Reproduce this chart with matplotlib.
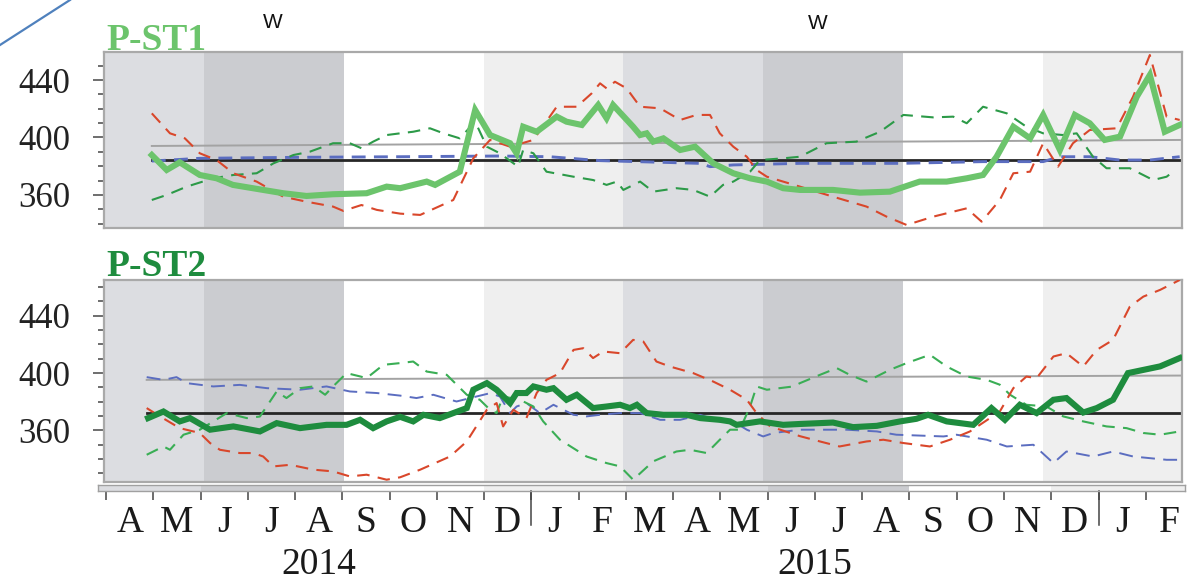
import matplotlib
matplotlib.use("Agg")
import matplotlib.pyplot as plt
from matplotlib.lines import Line2D
from matplotlib.transforms import blended_transform_factory
import numpy as np

plt.rcParams['lines.scale_dashes'] = False
plt.rcParams['font.family'] = ["Liberation Serif", "DejaVu Serif"]

# ---------------- data (x in months since 1 Apr 2014) ----------------
month_labels = ["A", "M", "J", "J", "A", "S", "O", "N", "D", "J", "F",
                "M", "A", "M", "J", "J", "A", "S", "O", "N", "D", "J", "F"]
year_labels = ["2014", "2015"]
year_centers = [4.5, 15.0]
year_breaks = [9, 21]
ytick_vals = [360, 400, 440]
ytick_labels = ["360", "400", "440"]
season_starts = [-1, 2, 5, 8, 11, 14, 17, 20]
season_kinds = ["spring", "summer", "fall", "winter", "spring", "summer", "fall", "winter"]

# ---- P-ST1 ----
st1_main_t = [0.88, 1.20, 1.48, 1.91, 2.27, 2.62, 3.27, 3.70, 4.20, 4.77, 5.49, 5.92, 6.21, 6.78,
              6.96, 7.49, 7.82, 8.14, 8.57, 8.71, 8.85, 9.14, 9.57, 9.78, 10.11, 10.46, 10.64, 10.78,
              11.21, 11.36, 11.50, 11.64, 11.86, 12.22, 12.54, 12.93, 13.36, 13.72, 14.08, 14.43,
              14.79, 15.50, 16.08, 16.72, 17.36, 17.94, 18.37, 18.72, 19.01, 19.37, 19.73, 20.01,
              20.37, 20.69, 21.01, 21.33, 21.66, 22.02, 22.30, 22.62, 22.94]
st1_main_v = [387.8, 377.4, 382.7, 373.9, 371.6, 367.0, 363.5, 361.2, 359.3, 360.5, 361.2, 365.8,
              364.7, 369.3, 367.0, 376.2, 419.1, 401.7, 396.0, 389.0, 407.5, 404.0, 414.5, 411.0,
              408.7, 422.6, 413.4, 422.6, 407.5, 401.7, 402.9, 397.1, 399.4, 391.3, 393.6, 382.0,
              375.1, 371.6, 369.3, 364.7, 363.5, 363.5, 361.6, 362.3, 369.3, 369.3, 371.6, 373.9,
              386.6, 407.5, 399.4, 415.7, 391.3, 415.7, 409.9, 398.3, 400.6, 428.4, 443.5, 404.0, 408.7]

st1_red_t = [0.88, 1.27, 1.59, 1.91, 2.27, 2.63, 3.13, 3.70, 4.20, 4.77, 4.99, 5.38, 5.71, 6.21,
             6.64, 7.35, 7.78, 8.14, 8.57, 9.07, 9.57, 10.00, 10.32, 10.50, 10.64, 10.82, 11.07,
             11.36, 11.79, 12.22, 12.57, 12.86, 13.07, 13.36, 13.65, 13.86, 14.08, 14.79, 15.50,
             16.22, 16.65, 17.08, 17.65, 18.37, 18.69, 19.08, 19.37, 19.73, 20.01, 20.33, 20.65,
             21.01, 21.59, 21.94, 22.30, 22.66, 22.94]
st1_red_v = [416.8, 402.9, 399.4, 389.0, 384.3, 375.1, 369.3, 358.8, 355.3, 351.9, 348.9, 353.0,
             349.6, 347.0, 346.1, 356.5, 385.5, 398.3, 393.6, 398.3, 421.4, 421.4, 430.7, 437.7,
             434.2, 438.8, 434.2, 421.4, 420.3, 412.2, 415.7, 415.7, 402.9, 393.6, 386.6, 377.4,
             372.7, 365.8, 358.8, 351.9, 344.9, 339.1, 344.9, 350.7, 341.4, 356.5, 375.1, 376.2,
             396.0, 379.7, 396.0, 405.2, 406.4, 428.4, 457.4, 414.5, 412.2]

st1_green_t = [0.88, 1.20, 1.63, 2.20, 2.63, 3.13, 3.49, 3.92, 4.27, 4.77, 5.13, 5.38, 5.63, 5.92,
               6.21, 6.49, 6.85, 7.14, 7.49, 7.82, 8.07, 8.35, 8.74, 8.85, 9.07, 9.35, 9.93, 10.35,
               10.64, 10.86, 11.00, 11.36, 11.64, 12.14, 12.50, 12.86, 13.14, 13.36, 13.72, 13.93,
               14.43, 14.79, 15.36, 16.00, 16.51, 17.01, 17.65, 18.08, 18.37, 18.72, 19.23, 19.65,
               20.01, 20.44, 20.73, 21.08, 21.37, 21.87, 22.37, 22.66, 22.80]
st1_green_v = [356.5, 360.0, 365.8, 371.6, 373.9, 375.1, 382.0, 387.8, 390.1, 396.0, 396.0, 392.5,
               397.1, 401.7, 402.9, 404.0, 406.4, 402.9, 399.4, 411.0, 393.6, 389.0, 379.7, 391.3,
               389.0, 376.2, 372.7, 370.4, 367.0, 369.3, 363.5, 369.3, 362.3, 364.7, 363.5, 358.8,
               367.0, 369.3, 376.2, 384.3, 385.5, 386.6, 396.0, 397.1, 404.0, 415.7, 414.0, 414.5,
               409.9, 421.4, 416.8, 407.5, 402.9, 401.7, 402.9, 386.6, 378.6, 378.6, 370.4, 372.7, 376.2]

st1_blue_t = [0.88, 1.91, 4.06, 6.21, 8.35, 9.42, 10.50, 12.65, 12.86, 13.36, 14.79, 16.94, 18.72,
              20.01, 20.37, 21.01, 21.66, 22.30, 22.94]
st1_blue_v = [383.6, 385.5, 386.2, 386.6, 387.1, 386.6, 383.9, 382.0, 379.7, 380.9, 382.0, 382.0,
              383.2, 383.2, 386.6, 386.6, 384.3, 384.3, 386.6]

st1_gray_t = [0.88, 22.99]
st1_gray_v = [394.1, 398.3]
st1_black_t = [0.88, 22.99]
st1_black_v = [384.0, 384.0]

# ---- P-ST2 ----
st2_main_t = [0.80, 1.13, 1.48, 1.70, 2.13, 2.63, 3.20, 3.56, 4.06, 4.63, 5.06, 5.35, 5.63, 5.92,
              6.21, 6.49, 6.71, 7.06, 7.35, 7.64, 7.78, 8.07, 8.28, 8.57, 8.71, 8.92, 9.07, 9.35,
              9.50, 9.78, 10.00, 10.35, 10.64, 10.93, 11.14, 11.29, 11.50, 11.86, 12.36, 12.65,
              13.07, 13.29, 13.43, 13.93, 14.43, 14.79, 15.22, 15.50, 15.93, 16.44, 16.94, 17.29,
              17.54, 17.94, 18.51, 18.90, 19.19, 19.51, 19.87, 20.23, 20.51, 20.87, 21.16, 21.51,
              21.83, 22.52, 22.94]
st2_main_v = [368.6, 373.2, 366.3, 368.6, 360.5, 362.8, 359.3, 365.1, 361.6, 363.9, 363.9, 367.4,
              361.6, 366.3, 369.5, 366.3, 370.9, 368.6, 372.1, 375.6, 388.4, 393.0, 388.4, 379.1,
              386.1, 386.1, 390.7, 388.4, 389.5, 381.4, 384.9, 375.6, 376.7, 377.9, 375.6, 377.9,
              372.1, 370.9, 370.9, 368.6, 367.4, 366.3, 363.9, 366.3, 363.9, 364.5, 365.1, 365.5,
              362.3, 363.2, 366.3, 368.1, 370.9, 366.3, 363.9, 375.6, 367.4, 377.9, 372.1, 381.4,
              382.6, 372.5, 375.6, 381.4, 400.0, 404.7, 410.5]

st2_red_t = [0.77, 1.06, 1.48, 1.91, 2.13, 2.34, 2.77, 3.06, 3.27, 3.49, 3.85, 4.35, 4.77, 5.13,
             5.49, 5.92, 6.21, 6.64, 7.28, 7.64, 8.07, 8.28, 8.42, 8.64, 8.92, 9.14, 9.35, 9.64,
             9.93, 10.14, 10.35, 10.57, 10.93, 11.21, 11.43, 11.71, 12.00, 12.50, 12.93, 13.29,
             13.65, 13.86, 14.15, 14.79, 15.22, 15.64, 16.22, 16.58, 17.01, 17.58, 18.01, 18.44,
             19.08, 19.37, 19.65, 19.87, 20.23, 20.51, 20.87, 21.16, 21.51, 21.87, 22.16, 22.52, 22.94]
st2_red_v = [375.6, 369.7, 361.6, 358.2, 351.2, 346.5, 344.2, 344.2, 341.8, 334.9, 336.0, 332.6,
             331.4, 327.9, 329.1, 325.6, 327.3, 332.6, 341.8, 352.3, 374.4, 379.1, 362.8, 374.4,
             368.6, 386.1, 395.3, 400.0, 416.2, 417.4, 410.5, 415.1, 413.9, 423.2, 422.0, 408.1,
             404.6, 400.0, 394.1, 388.4, 381.4, 372.1, 362.8, 356.0, 352.3, 348.8, 352.3, 353.5,
             351.2, 348.8, 353.5, 359.3, 373.2, 389.5, 397.6, 396.5, 411.6, 413.9, 404.6, 416.2,
             423.2, 446.4, 453.4, 458.1, 465.0]

st2_green_t = [0.77, 1.13, 1.27, 1.56, 1.91, 2.20, 2.49, 2.92, 3.20, 3.56, 3.77, 4.06, 4.35, 4.60,
               4.77, 5.06, 5.35, 5.49, 5.85, 6.21, 6.49, 6.78, 7.21, 7.64, 7.92, 8.14, 8.28, 8.42,
               8.78, 9.07, 9.28, 9.64, 10.21, 10.64, 10.93, 11.21, 11.64, 12.14, 12.43, 12.79,
               13.07, 13.29, 13.50, 13.72, 13.86, 14.08, 14.65, 14.79, 15.22, 15.58, 15.86, 16.22,
               16.72, 17.08, 17.58, 17.94, 18.37, 18.80, 19.08, 19.30, 19.65, 20.08, 20.44, 20.87,
               21.37, 21.80, 22.16, 22.52, 22.94]
st2_green_v = [343.0, 348.8, 346.5, 357.0, 360.5, 366.3, 372.1, 368.6, 369.7, 387.2, 382.6, 389.5,
               390.7, 384.9, 390.7, 400.0, 397.7, 396.5, 405.8, 407.0, 408.1, 401.1, 398.8, 384.9,
               381.4, 374.4, 372.1, 383.7, 381.4, 376.7, 366.3, 353.5, 341.8, 337.2, 334.9, 325.6,
               338.4, 345.3, 346.5, 344.2, 353.5, 360.5, 360.5, 376.7, 390.7, 388.4, 390.7, 393.0,
               398.8, 403.5, 398.8, 394.1, 402.3, 407.0, 412.8, 404.6, 397.6, 395.3, 391.9, 384.9,
               377.9, 376.7, 369.8, 366.3, 362.8, 361.6, 358.2, 357.0, 359.3]

st2_blue_t = [0.77, 1.13, 1.41, 1.63, 2.20, 2.77, 3.35, 4.06, 4.63, 5.13, 5.71, 6.21, 6.56, 6.92,
              7.42, 7.85, 8.14, 8.35, 8.57, 8.71, 8.92, 9.21, 9.50, 9.93, 10.21, 10.50, 10.93,
              11.36, 11.79, 12.22, 12.65, 13.07, 13.36, 13.65, 14.00, 14.22, 14.79, 15.22, 15.79,
              16.44, 16.86, 17.87, 18.15, 18.80, 19.23, 19.80, 20.23, 20.51, 21.08, 21.51, 21.94,
              22.66, 22.94]
st2_blue_v = [397.2, 395.3, 397.2, 393.0, 390.7, 391.8, 389.5, 388.4, 390.7, 387.2, 386.1, 384.3,
              382.6, 384.9, 380.2, 383.7, 386.0, 383.7, 372.1, 376.7, 379.1, 372.1, 377.9, 370.9,
              369.8, 370.9, 372.1, 372.1, 367.4, 367.4, 370.9, 366.3, 366.3, 360.5, 355.8, 358.2,
              360.5, 360.5, 360.5, 359.3, 357.0, 355.8, 357.0, 353.5, 348.8, 350.0, 337.2, 345.3,
              341.8, 345.3, 341.8, 339.5, 339.5]

st2_gray_t = [0.77, 22.99]
st2_gray_v = [395.3, 398.3]
st2_black_t = [0.77, 22.99]
st2_black_v = [372.1, 372.1]

# ---------------- styling ----------------
season_colors = {"spring": "#dcdde1", "summer": "#cbccd0", "fall": "#ffffff", "winter": "#efefef"}
SERIF = ["Liberation Serif", "DejaVu Serif"]
SANS = ["Liberation Sans", "DejaVu Sans"]
light_green = "#6cc46c"
dark_green = "#1e8c3e"
red = "#d9472b"
blue = "#5b6dc0"
frame_col = "#a9a9a9"

W, H = 1195, 581
fig = plt.figure(figsize=(W / 100, H / 100), dpi=100)


def px_rect(left, top, right, bottom):
    return [left / W, (H - bottom) / H, (right - left) / W, (bottom - top) / H]


XLIM = (-0.146, 22.99)


def shade(ax, xlim):
    for s, k in zip(season_starts, season_kinds):
        ax.axvspan(s, s + 3, color=season_colors[k], lw=0, zorder=0)
    ax.set_xlim(*xlim)


def style_panel(ax, ylim, ymin_tick, ymax_tick):
    ax.set_ylim(*ylim)
    ax.set_xticks([])
    ax.yaxis.set_major_locator(matplotlib.ticker.FixedLocator(ytick_vals))
    ax.yaxis.set_major_formatter(matplotlib.ticker.FixedFormatter(ytick_labels))
    ax.yaxis.set_minor_locator(matplotlib.ticker.FixedLocator(
        list(np.arange(ymin_tick, ymax_tick + 1, 10))))
    ax.tick_params(axis="y", which="major", direction="out", length=8, width=1.2,
                   color="#555555", pad=16, labelsize=25, labelcolor="#222222")
    ax.tick_params(axis="y", which="minor", direction="out", length=4.5, width=1.2,
                   color="#555555")
    for sp in ax.spines.values():
        sp.set_color(frame_col)
        sp.set_linewidth(1.6)


def draw_series(ax, main_t, main_v, main_col, red_t, red_v, gr_t, gr_v, gr_col,
                bl_t, bl_v, bl_lw, gray_t, gray_v, blk_t, blk_v):
    ax.plot(gray_t, gray_v, color="#a3a3a3", lw=1.4, zorder=2)
    ax.plot(blk_t, blk_v, color="#262626", lw=2.0, zorder=2)
    ax.plot(bl_t, bl_v, color=blue, lw=bl_lw, dashes=(10, 6), zorder=3)
    ax.plot(gr_t, gr_v, color=gr_col, lw=1.5, dashes=(9, 6), zorder=3)
    ax.plot(red_t, red_v, color=red, lw=1.5, dashes=(9, 6), zorder=3)
    ax.plot(main_t, main_v, color=main_col, lw=4.4, solid_joinstyle="miter", zorder=4)


# top panel
ax1 = fig.add_axes(px_rect(104, 52, 1182, 228))
shade(ax1, XLIM)
style_panel(ax1, (337, 459.5), 340, 450)
draw_series(ax1, st1_main_t, st1_main_v, light_green, st1_red_t, st1_red_v,
            st1_green_t, st1_green_v, "#2c9a48", st1_blue_t, st1_blue_v, 2.1,
            st1_gray_t, st1_gray_v, st1_black_t, st1_black_v)

# bottom panel
ax2 = fig.add_axes(px_rect(104, 280, 1182, 482))
shade(ax2, XLIM)
style_panel(ax2, (324, 465), 330, 460)
draw_series(ax2, st2_main_t, st2_main_v, dark_green, st2_red_t, st2_red_v,
            st2_green_t, st2_green_v, "#3aae55", st2_blue_t, st2_blue_v, 1.4,
            st2_gray_t, st2_gray_v, st2_black_t, st2_black_v)

# thin strip carrying the time axis
ax3 = fig.add_axes(px_rect(98.3, 485, 1185, 490.7))
shade(ax3, (-0.163, 22.83))
ax3.set_ylim(0, 1)
ax3.set_yticks([])
ax3.set_xticks(range(0, 23))
ax3.set_xticklabels([])
ax3.tick_params(axis="x", length=6.5, width=1.1, color="#444444")
for sp in ax3.spines.values():
    sp.set_color("#a0a0a0")
    sp.set_linewidth(1.0)
trans = blended_transform_factory(ax3.transData, fig.transFigure)
for yb in year_breaks:
    ax3.add_line(Line2D([yb, yb], [(H - 490.7) / H, (H - 525) / H], transform=trans,
                        color="#444444", lw=1.1, clip_on=False))
for i, lab in enumerate(month_labels):
    ax3.text(i + 0.5, (H - 531.5) / H, lab, transform=trans, ha="center", va="baseline",
             fontfamily=SERIF, fontsize=27, color="#1a1a1a")
for c, lab in zip(year_centers, year_labels):
    ax3.text(c, (H - 573.5) / H, lab, transform=trans, ha="center", va="baseline",
             fontfamily=SERIF, fontsize=27, color="#1a1a1a")

# titles
fig.text(106 / W, (H - 50) / H, "P-ST1", fontfamily=SERIF, fontweight="bold", fontsize=27,
         color=light_green, ha="left", va="baseline")
fig.text(106 / W, (H - 276) / H, "P-ST2", fontfamily=SERIF, fontweight="bold", fontsize=27,
         color=dark_green, ha="left", va="baseline")

# "W" marks
fig.text(272.5 / W, (H - 27.7) / H, "W", fontfamily=SANS, fontsize=15, color="#111111",
         ha="center", va="baseline")
fig.text(818 / W, (H - 29) / H, "W", fontfamily=SANS, fontsize=15, color="#111111",
         ha="center", va="baseline")

# blue diagonal stroke at the top-left corner
fig.add_artist(Line2D([0, 70 / W], [(H - 45) / H, 1.0], transform=fig.transFigure,
                      color="#4f81bd", lw=1.6))

fig.savefig("out.png", dpi=100)
